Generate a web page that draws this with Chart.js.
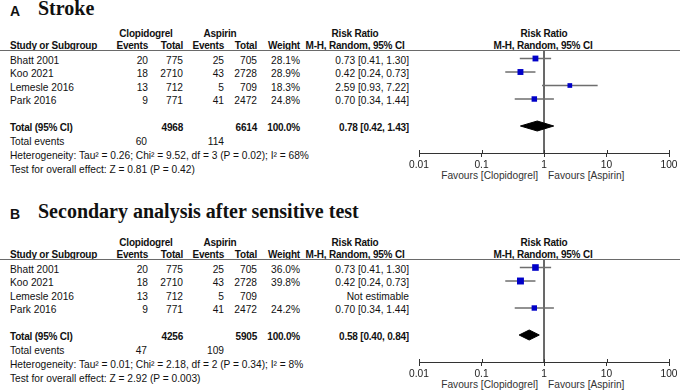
<!DOCTYPE html>
<html><head><meta charset="utf-8">
<script src="https://cdn.jsdelivr.net/npm/chart.js@4.4.1/dist/chart.umd.min.js"></script>
<style>
html,body{margin:0;padding:0;background:#fff;}
#root{position:relative;width:680px;height:392px;overflow:hidden;font-family:"Liberation Sans",Arial,sans-serif;color:#111;}
.t{position:absolute;white-space:nowrap;}
.hl{position:absolute;left:0;width:680px;height:0;border-top:1.5px solid #6a6a6a;}
canvas{position:absolute;}
</style></head><body><div id="root"></div>
<script>
// ---------- data ----------
const studies = ["Bhatt 2001", "Koo 2021", "Lemesle 2016", "Park 2016"];
const clopiEvents = [20, 18, 13, 9];
const clopiTotal = [775, 2710, 712, 771];
const aspEvents = [25, 43, 5, 41];
const aspTotal = [705, 2728, 709, 2472];

const weightA = [28.1, 28.9, 18.3, 24.8];
const rrA = [0.73, 0.42, 2.59, 0.70];
const loA = [0.41, 0.24, 0.93, 0.34];
const hiA = [1.30, 0.73, 7.22, 1.44];
const totalA = [0.78, 0.42, 1.43];   // rr, lo, hi
const hetA = "Heterogeneity: Tau\u00b2 = 0.26; Chi\u00b2 = 9.52, df = 3 (P = 0.02); I\u00b2 = 68%";
const testA = "Test for overall effect: Z = 0.81 (P = 0.42)";

const weightB = [36.0, 39.8, null, 24.2];
const rrB = [0.73, 0.42, null, 0.70];
const loB = [0.41, 0.24, null, 0.34];
const hiB = [1.30, 0.73, null, 1.44];
const totalB = [0.58, 0.40, 0.84];
const hetB = "Heterogeneity: Tau\u00b2 = 0.01; Chi\u00b2 = 2.18, df = 2 (P = 0.34); I\u00b2 = 8%";
const testB = "Test for overall effect: Z = 2.92 (P = 0.003)";

const tickValues = [0.01, 0.1, 1, 10, 100];
const tickLabels = ["0.01", "0.1", "1", "10", "100"];

// ---------- layout helpers ----------
const root = document.getElementById('root');
function txt(x, base, s, o) {
  o = o || {};
  const serif = !!o.serif;
  const size = o.size || (o.bold ? 10 : 10.2);
  const lh = Math.round(size * 1.2);
  const asc = serif ? 0.891 : 0.905, desc = serif ? 0.216 : 0.212;
  const top = base - ((lh - (asc + desc) * size) / 2 + asc * size);
  const d = document.createElement('div');
  d.className = 't';
  d.textContent = s;
  d.style.fontSize = size + 'px';
  d.style.lineHeight = lh + 'px';
  d.style.top = top + 'px';
  if (serif) d.style.fontFamily = '"Liberation Serif","Times New Roman",serif';
  if (o.bold) d.style.fontWeight = 'bold';
  if (o.bold && !o.size) d.style.letterSpacing = '-0.2px';
  if (o.color) d.style.color = o.color;
  const a = o.align || 'left';
  if (a === 'left') d.style.left = x + 'px';
  else if (a === 'right') d.style.right = (680 - x) + 'px';
  else { d.style.left = (x - 150) + 'px'; d.style.width = '300px'; d.style.textAlign = 'center'; }
  root.appendChild(d);
}
function fmt(v) { return v.toFixed(2); }

// tick marks that also rise above the axis line
const crossTicks = {
  id: 'crossTicks',
  afterDraw(chart) {
    const s = chart.scales.x, ctx = chart.ctx;
    ctx.save();
    ctx.strokeStyle = '#333'; ctx.lineWidth = 1;
    s.ticks.forEach(t => {
      const px = Math.round(s.getPixelForValue(t.value)) + 0.5;
      ctx.beginPath(); ctx.moveTo(px, s.top - 3); ctx.lineTo(px, s.top); ctx.stroke();
    });
    ctx.restore();
  }
};

function panel(off, titleBase, letter, title, weight, rr, lo, hi, tot, het, test) {
  txt(10, titleBase + 1, letter, {size: 14, bold: true});
  txt(38, titleBase, title, {size: 20, bold: true, serif: true});
  // header
  txt(146, off + 37, "Clopidogrel", {bold: true, align: 'center'});
  txt(220, off + 37, "Aspirin", {bold: true, align: 'center'});
  txt(355, off + 37, "Risk Ratio", {bold: true, align: 'center'});
  txt(544, off + 37, "Risk Ratio", {bold: true, align: 'center'});
  txt(10, off + 49, "Study or Subgroup", {bold: true});
  txt(148, off + 49, "Events", {bold: true, align: 'right'});
  txt(183, off + 49, "Total", {bold: true, align: 'right'});
  txt(224, off + 49, "Events", {bold: true, align: 'right'});
  txt(257, off + 49, "Total", {bold: true, align: 'right'});
  txt(300, off + 49, "Weight", {bold: true, align: 'right'});
  txt(355, off + 49, "M-H, Random, 95% CI", {bold: true, align: 'center'});
  txt(543, off + 49, "M-H, Random, 95% CI", {bold: true, align: 'center'});
  const hl = document.createElement('div');
  hl.className = 'hl'; hl.style.top = (off + 50) + 'px';
  root.appendChild(hl);
  // rows
  let sc = 0, sa = 0, ec = 0, ea = 0;
  studies.forEach((name, i) => {
    const b = off + 64.3 + 13.5 * i;
    txt(10, b, name);
    txt(148, b, String(clopiEvents[i]), {align: 'right'});
    txt(183, b, String(clopiTotal[i]), {align: 'right'});
    txt(224, b, String(aspEvents[i]), {align: 'right'});
    txt(257, b, String(aspTotal[i]), {align: 'right'});
    if (weight[i] != null) {
      txt(300, b, weight[i].toFixed(1) + '%', {align: 'right'});
      txt(409, b, fmt(rr[i]) + ' [' + fmt(lo[i]) + ', ' + fmt(hi[i]) + ']', {align: 'right'});
      sc += clopiTotal[i]; sa += aspTotal[i]; ec += clopiEvents[i]; ea += aspEvents[i];
    } else {
      txt(409, b, 'Not estimable', {align: 'right'});
    }
  });
  txt(10, off + 131.5, "Total (95% CI)", {bold: true});
  txt(183, off + 131.5, String(sc), {bold: true, align: 'right'});
  txt(257, off + 131.5, String(sa), {bold: true, align: 'right'});
  txt(300, off + 131.5, "100.0%", {bold: true, align: 'right'});
  txt(409, off + 131.5, fmt(tot[0]) + ' [' + fmt(tot[1]) + ', ' + fmt(tot[2]) + ']', {bold: true, align: 'right'});
  txt(10, off + 145.7, "Total events");
  txt(147, off + 145.7, String(ec), {align: 'right'});
  txt(224, off + 145.7, String(ea), {align: 'right'});
  txt(10, off + 159.7, het);
  txt(10, off + 173.3, test);
  txt(538, off + 180, "Favours [Clopidogrel]", {align: 'right', color: '#333'});
  txt(548, off + 180, "Favours [Aspirin]", {color: '#333'});

  // forest plot
  const cv = document.createElement('canvas');
  cv.width = 285; cv.height = 135;
  cv.style.left = '395px'; cv.style.top = (off + 40) + 'px';
  root.appendChild(cv);
  const yMin = -0.556, yMax = 7.0;
  const ds = [];
  const pts = [], radii = [];
  rr.forEach((v, i) => {
    if (v != null) { pts.push({x: v, y: i}); radii.push(1.1 * Math.sqrt(weight[i]) / Math.SQRT2); }
  });
  ds.push({data: pts, pointStyle: 'rect', pointRadius: radii, backgroundColor: '#0000c8',
           borderColor: '#0000c8', borderWidth: 0, showLine: false});
  const ty = studies.length + 1, h = 0.37;
  ds.push({data: [{x: tot[1], y: ty}, {x: tot[0], y: ty - h}, {x: tot[2], y: ty}, {x: tot[0], y: ty + h}, {x: tot[1], y: ty}],
           showLine: true, fill: 'shape', backgroundColor: '#000', borderColor: '#000', borderWidth: 1,
           pointRadius: 0, tension: 0});
  rr.forEach((v, i) => {
    if (v != null) ds.push({data: [{x: lo[i], y: i}, {x: hi[i], y: i}], showLine: true,
                            borderColor: '#6e6e6e', borderWidth: 1.5, pointRadius: 0});
  });
  ds.push({data: [{x: 1, y: yMin}, {x: 1, y: yMax}], showLine: true, borderColor: '#555',
           borderWidth: 1, pointRadius: 0});
  new Chart(cv, {
    type: 'scatter',
    data: {datasets: ds},
    plugins: [crossTicks],
    options: {
      responsive: false, animation: false, events: [],
      layout: {padding: {left: 24, right: 11, top: 11, bottom: 0}},
      plugins: {legend: {display: false}, tooltip: {enabled: false}},
      scales: {
        x: {
          type: 'logarithmic', min: 0.01, max: 100,
          afterBuildTicks: s => { s.ticks = tickValues.map(v => ({value: v})); },
          afterFit: s => { s.height = 22; },
          ticks: {callback: (v, i) => tickLabels[i], font: {family: 'Liberation Sans', size: 10.2},
                  color: '#222', padding: 2, autoSkip: false, maxRotation: 0},
          grid: {drawOnChartArea: false, drawTicks: true, tickLength: 4, color: '#333'},
          border: {display: true, color: '#333', width: 1}
        },
        y: {type: 'linear', reverse: true, min: yMin, max: yMax, display: false}
      }
    }
  });
}

panel(0, 15, "A", "Stroke", weightA, rrA, loA, hiA, totalA, hetA, testA);
panel(209, 218, "B", "Secondary analysis after sensitive test", weightB, rrB, loB, hiB, totalB, hetB, testB);
</script>
</body></html>
